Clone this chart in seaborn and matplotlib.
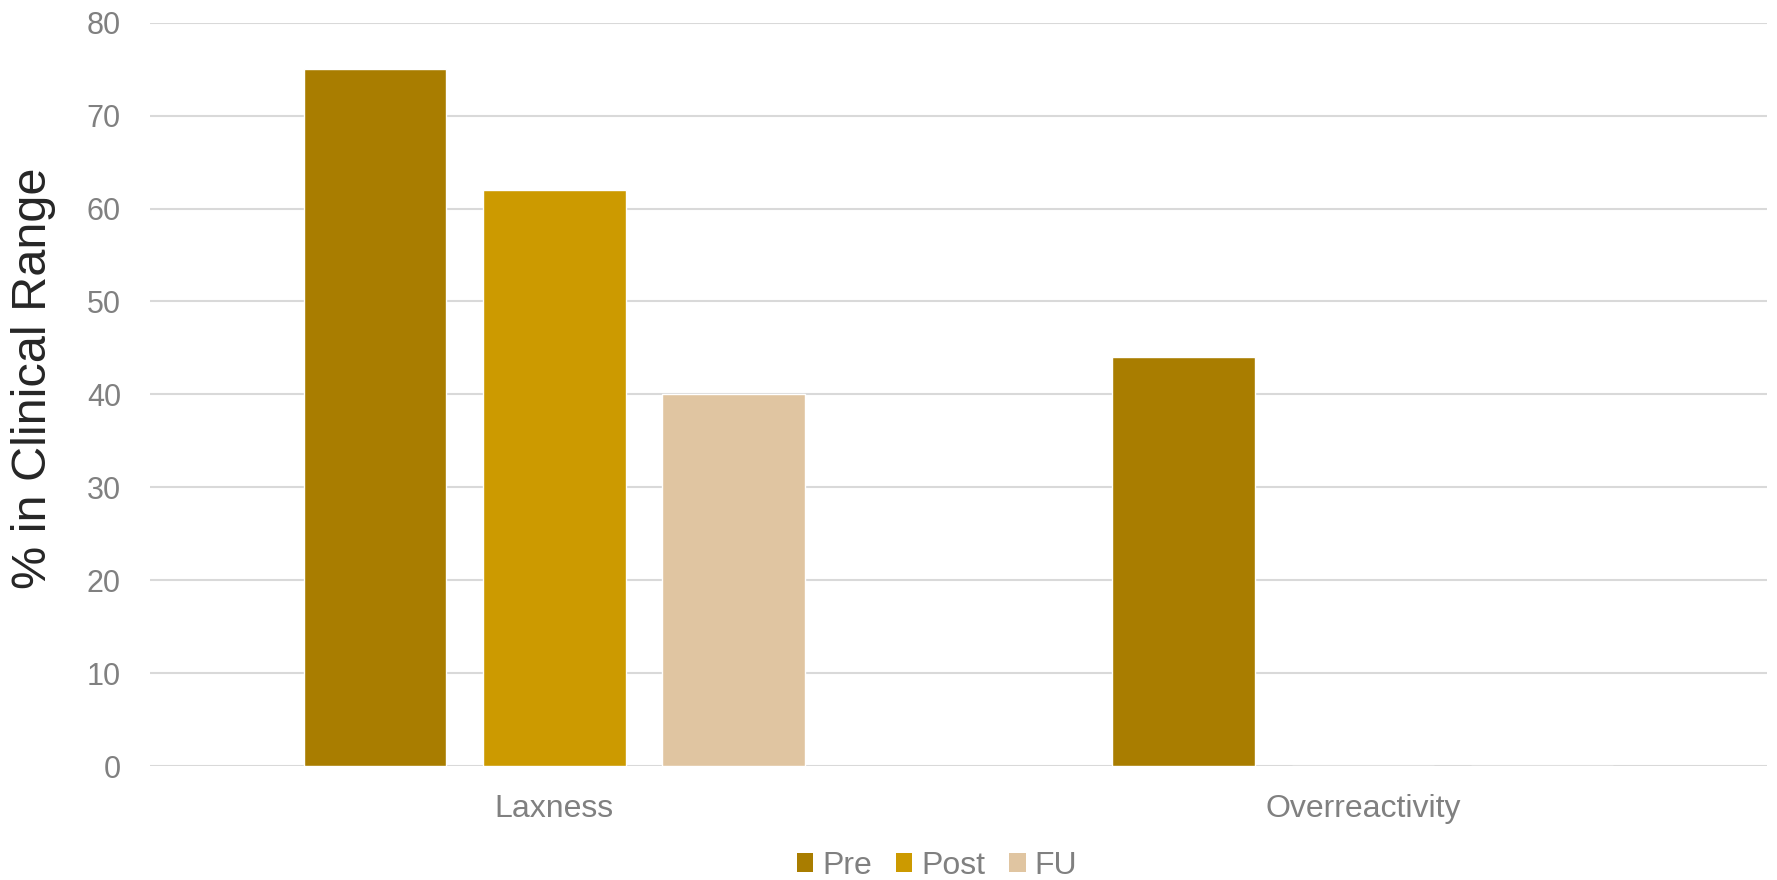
import matplotlib
matplotlib.use("Agg")
import matplotlib.pyplot as plt
import seaborn as sns
import pandas as pd
from matplotlib.patches import Patch

# Share of children scoring in the clinical range, by scale and assessment point
domains = ["Laxness", "Overreactivity"]
timepoints = ["Pre", "Post", "FU"]
pre_values = [75, 44]
post_values = [62, 0]
fu_values = [40, 0]
y_ticks = [0, 10, 20, 30, 40, 50, 60, 70, 80]

colors = {"Pre": "#A97D00", "Post": "#CC9A00", "FU": "#E0C5A1"}

rows = []
for tp, vals in zip(timepoints, [pre_values, post_values, fu_values]):
    for d, v in zip(domains, vals):
        rows.append({"domain": d, "time": tp, "pct": v})
df = pd.DataFrame(rows)

sns.set_theme(style="white")
plt.rcParams["font.family"] = ["Liberation Sans", "DejaVu Sans"]

fig = plt.figure(figsize=(17.77, 8.8), dpi=100)
ax = fig.add_axes([0.0845, 0.1295, 0.910, 0.8447])

sns.barplot(data=df, x="domain", y="pct", hue="time", order=domains,
            hue_order=timepoints, palette=colors, saturation=1,
            width=0.665, gap=0.205, legend=False, ax=ax, errorbar=None)

ax.set_ylim(0, 80)
ax.set_xlim(-0.5, 1.5)
ax.set_yticks(y_ticks)
ax.yaxis.grid(True, color="#D9D9D9", linewidth=1.5)
ax.set_axisbelow(True)
for s in ax.spines.values():
    s.set_visible(False)

ax.tick_params(axis="y", length=0, pad=21, labelsize=22, labelcolor="#808080")
ax.tick_params(axis="x", length=0, pad=20, labelsize=23, labelcolor="#808080")
ax.set_xlabel("")
ax.set_ylabel("% in Clinical Range", fontsize=35, color="#262626")
ax.yaxis.set_label_coords(-0.058, 0.522)

handles = [Patch(facecolor=colors[t], edgecolor="none", label=t) for t in timepoints]
fig.legend(handles=handles, loc="center", bbox_to_anchor=(937 / 1777, 1 - 866 / 880),
           ncol=3, frameon=False, fontsize=23, labelcolor="#808080",
           handlelength=0.52, handleheight=0.52, handletextpad=0.28,
           columnspacing=0.75)

fig.savefig("out.png", dpi=100)
